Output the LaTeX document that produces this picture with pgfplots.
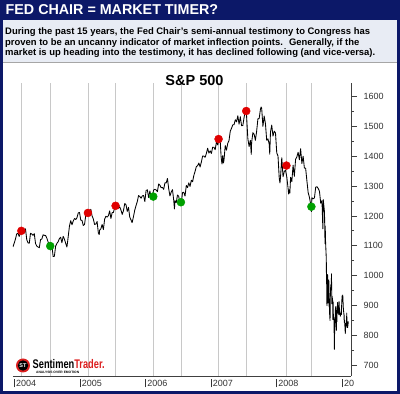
\documentclass[border=0pt]{standalone}
\usepackage{graphicx}
\usepackage{pgfplots}
\pgfplotsset{compat=1.18}
\usepackage{pgfplotstable}
\usepackage{fontspec}
\setmainfont{Liberation Sans}
\definecolor{navy}{RGB}{12,24,104}
\definecolor{descbg}{RGB}{232,236,244}
\definecolor{gridc}{RGB}{200,200,200}
\definecolor{dotred}{RGB}{224,0,0}
\definecolor{dotgreen}{RGB}{0,160,0}
\definecolor{logored}{RGB}{220,30,30}
\newcommand{\yr}[1]{\rule[-0.5pt]{0.8pt}{8.5pt}\hspace{1.2pt}#1}

% w = weeks since Fri 2 Jan 2004, v = S&P 500 close
\pgfplotstableread{
w v
-1 1095.9
0 1108.5
1 1121.9
2 1139.8
3 1141.6
4 1131.1
5 1142.8
6 1145.8
7 1144.1
8 1144.9
9 1156.9
10 1120.6
11 1109.8
12 1108.1
13 1141.8
14 1139.3
15 1134.6
16 1140.6
17 1107.3
18 1098.7
19 1095.7
20 1093.6
21 1120.7
22 1122.5
23 1136.5
24 1135.0
25 1134.4
26 1125.4
27 1112.8
28 1101.4
29 1086.2
30 1101.7
31 1063.9
32 1064.8
33 1098.6
34 1107.8
35 1113.6
36 1123.9
37 1128.6
38 1110.1
39 1131.5
40 1122.1
41 1108.2
42 1095.7
43 1130.2
44 1166.2
45 1184.2
46 1170.3
47 1182.7
48 1191.2
49 1188.0
50 1194.2
51 1210.1
52 1211.9
53 1186.2
54 1184.5
55 1167.9
56 1171.4
57 1203.0
58 1205.3
59 1201.6
60 1211.4
61 1222.1
62 1200.1
63 1189.7
64 1171.4
65 1172.9
66 1181.2
67 1142.6
67.71 1137.5
68 1152.1
69 1156.9
70 1171.4
71 1154.1
72 1189.3
73 1198.8
74 1196.0
75 1200.9
76 1216.9
77 1191.6
78 1211.2
79 1211.9
80 1227.9
81 1233.7
82 1234.2
83 1226.4
84 1230.4
85 1219.7
86 1205.1
87 1218.0
88 1241.5
89 1237.9
90 1215.3
91 1228.8
92 1195.9
93 1186.6
93.86 1177.6
94 1179.6
95 1198.4
96 1220.1
97 1234.7
98 1248.3
99 1268.3
100 1265.1
101 1259.4
102 1267.3
103 1268.7
104 1248.3
105 1285.5
106 1287.6
107 1261.5
108 1283.7
109 1264.0
110 1266.9
111 1287.2
112 1289.1
113 1287.2
114 1281.6
115 1307.3
116 1302.9
117 1294.9
118 1295.5
119 1289.1
120 1311.3
121 1310.6
122 1325.8
123 1291.2
124 1267.0
125 1280.2
126 1288.2
127 1252.3
127.57 1223.7
128 1251.5
129 1244.5
130 1270.2
131 1265.5
132 1236.2
133 1240.3
134 1278.6
135 1279.4
136 1266.7
137 1302.3
138 1295.1
139 1311.0
140 1298.9
141 1319.7
142 1314.8
143 1335.9
144 1349.6
145 1365.6
146 1368.6
147 1377.3
148 1364.3
149 1380.9
150 1401.2
151 1400.6
152 1396.7
153 1409.8
154 1427.1
155 1410.8
156 1418.3
157 1409.7
158 1430.7
159 1430.5
160 1422.2
161 1448.4
162 1438.1
163 1455.5
164 1451.2
164.71 1399.0
165 1387.2
165.43 1374.1
166 1402.8
166.57 1377.9
167 1386.9
168 1436.1
169 1420.9
170 1443.8
171 1452.9
172 1484.4
173 1494.1
174 1505.6
175 1505.9
176 1522.8
177 1515.7
178 1536.3
179 1507.7
180 1532.9
181 1502.6
182 1503.4
183 1530.4
184 1552.5
184.86 1553.1
185 1534.1
186 1458.9
187 1433.1
188 1453.6
188.71 1406.7
189 1445.9
190 1479.4
191 1473.9
192 1453.6
193 1484.3
194 1525.8
195 1526.8
196 1557.6
196.57 1565.2
197 1561.8
198 1500.6
199 1535.3
200 1509.7
201 1453.7
202 1458.7
203 1440.7
203.43 1407.2
204 1481.1
205 1504.7
206 1467.9
207 1484.5
208 1478.5
209 1411.6
210 1401.0
211 1325.2
211.57 1310.5
212 1330.6
213 1395.4
214 1331.3
215 1349.0
216 1353.1
217 1330.6
218 1293.4
218.43 1273.4
219 1288.1
219.43 1276.6
220 1329.5
221 1315.2
222 1370.4
223 1332.8
224 1390.3
225 1397.8
226 1413.9
227 1388.3
228 1425.4
229 1375.9
230 1400.4
231 1360.7
232 1360.0
233 1317.9
234 1278.4
235 1262.9
236 1239.5
236.57 1214.9
237 1260.7
238 1257.8
239 1260.3
240 1296.3
241 1298.2
242 1292.2
243 1282.8
244 1242.3
245 1251.7
245.43 1192.7
245.71 1156.4
246 1255.1
247 1213.3
247.43 1106.4
247.57 1166.4
247.86 1114.3
248 1099.2
248.43 1056.9
248.57 996.2
248.71 984.9
248.86 909.9
249 899.2
249.43 1003.4
249.57 998.0
249.71 907.8
249.86 946.4
250 940.6
250.43 985.4
250.57 955.1
250.71 896.8
250.86 908.1
251 876.8
251.43 848.9
251.57 940.5
251.71 930.1
251.86 954.1
252 968.8
252.43 966.3
252.57 1005.8
252.71 952.8
252.86 904.9
253 930.9
253.43 919.2
253.57 898.9
253.71 852.3
253.86 911.3
254 873.3
254.43 850.8
254.57 859.1
254.71 806.6
254.86 752.4
255 800.0
255.43 851.8
255.57 857.4
255.71 887.7
256 896.2
256.43 816.2
256.57 848.8
256.71 870.7
256.86 845.2
257 876.1
257.43 909.7
257.57 888.7
257.71 899.2
257.86 873.6
258 879.7
258.43 868.6
258.57 913.2
258.71 904.4
258.86 885.3
259 887.9
259.43 871.6
259.57 863.2
259.86 868.2
260 872.8
260.43 869.4
260.57 890.6
260.71 903.3
261 931.8
261.43 927.5
261.57 934.7
261.71 906.7
261.86 909.7
262 890.4
262.43 870.3
262.57 871.8
262.71 842.6
262.86 843.7
263 850.1
263.57 805.2
263.71 840.2
263.86 827.5
264 831.9
264.43 836.6
264.57 845.7
264.71 874.1
264.86 845.1
265 825.9
265.43 825.4
265.57 838.5
265.71 832.2
265.86 845.9
}\spx

% testimony dates (weeks since 2 Jan 2004) and index level
\pgfplotstableread{
w v
5.71 1150
58.71 1210
80.71 1234
162.71 1458
184.71 1552
216.71 1369
}\reddots

\pgfplotstableread{
w v
28.71 1099
110.71 1265
132.71 1246
236.57 1231
}\greendots

\begin{document}
\begin{tikzpicture}[x=1pt,y=1pt]
\path[use as bounding box] (0,0) rectangle (400,394);
\fill[navy] (0,0) rectangle (400,394);
\fill[white] (3,3) rectangle (397,374);
\fill[descbg] (3,332) rectangle (397,374);
\draw[black!35, line width=0.8pt] (3,332) -- (397,332);
\node[anchor=base west, text=white, inner sep=0, font=\fontsize{14.3}{16}\selectfont\bfseries] at (5.5,379) {FED CHAIR = MARKET TIMER?};
\node[anchor=base west, inner sep=0, font=\fontsize{9.45}{10}\selectfont\bfseries] at (5,359.7) {During the past 15 years, the Fed Chair's semi-annual testimony to Congress has};
\node[anchor=base west, inner sep=0, font=\fontsize{9.45}{10}\selectfont\bfseries] at (5,348.7) {proven to be an uncanny indicator of market inflection points.~ Generally, if the};
\node[anchor=base west, inner sep=0, font=\fontsize{9.45}{10}\selectfont\bfseries] at (5,338) {market is up heading into the testimony, it has declined following (and vice-versa).};

\begin{axis}[
  at={(13pt,18pt)}, anchor=south west,
  scale only axis, width=338pt, height=292.7pt,
  xmin=-0.94, xmax=268.1, ymin=663, ymax=1645,
  axis x line*=bottom, axis y line*=right,
  axis line style={black!75, line width=0.8pt, -},
  tick align=outside,
  major tick length=6pt, minor tick length=3pt,
  xtick={-0.14,52.14,104.29,156.43,208.57,260.86},
  xticklabels={{\yr{2004}},{\yr{2005}},{\yr{2006}},{\yr{2007}},{\yr{2008}},{\yr{20}}},
  xtick style={draw=none},
  xticklabel style={anchor=base west, inner sep=0pt, yshift=-5pt},
  ytick={700,800,...,1600},
  minor ytick={650,750,...,1650},
  ytick style={black!75, line width=0.8pt},
  tick label style={font=\fontsize{9}{9}\selectfont, text=black!80},
  yticklabel style={anchor=west, xshift=3pt},
  /pgf/number format/assume math mode=true,
  /pgf/number format/1000 sep={},
  extra x ticks={5.71,28.71,58.71,80.71,110.71,132.71,162.71,184.71,216.71,236.57},
  extra x tick labels={},
  extra x tick style={grid=major, major grid style={gridc, line width=0.8pt}, major tick length=0pt},
]
\addplot[black, line width=0.85pt, line join=round] table[x=w,y=v]{\spx};
\addplot[only marks, mark=*, mark size=4pt, color=dotred, mark options={draw=dotred, fill=dotred}] table[x=w,y=v]{\reddots};
\addplot[only marks, mark=*, mark size=4pt, color=dotgreen, mark options={draw=dotgreen, fill=dotgreen}] table[x=w,y=v]{\greendots};
\end{axis}

\node[anchor=base, inner sep=0, font=\fontsize{14.5}{16}\selectfont\bfseries] at (194.5,308.3) {S\&P 500};

% logo
\fill[logored] (23,28.5) circle (7);
\fill[black] (23,28.5) circle (5.2);
\node[text=white, inner sep=0, font=\fontsize{5.5}{6}\selectfont\bfseries] at (23,28.5) {ST};
\node[anchor=base west, inner sep=0] at (32.5,25) {\scalebox{0.74}[1]{\fontsize{12.5}{12}\selectfont\bfseries Sentimen\textcolor{logored}{Trader.}}};
\node[anchor=base west, inner sep=0, font=\fontsize{3.3}{3.5}\selectfont\bfseries] at (36,20.5) {ANALYSIS OVER EMOTION};
\end{tikzpicture}
\end{document}
